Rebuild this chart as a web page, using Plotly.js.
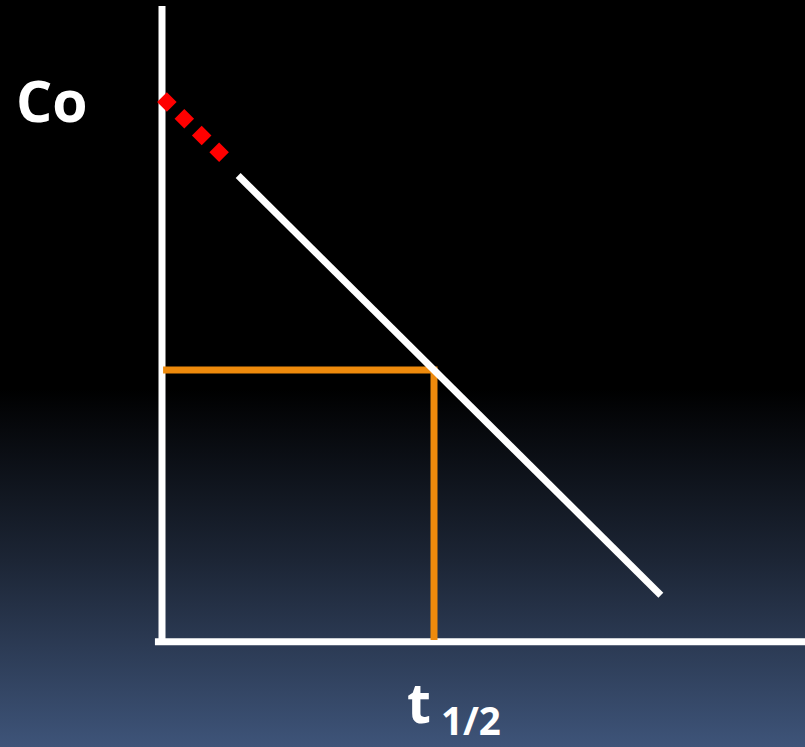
<!DOCTYPE html>
<html>
<head>
<meta charset="utf-8">
<script src="https://cdn.plot.ly/plotly-3.0.1.min.js"></script>
<style>
  html, body { margin: 0; padding: 0; }
  body {
    width: 805px; height: 747px; overflow: hidden;
    background: linear-gradient(to bottom, #000000 0%, #000000 52%, #1c2535 75%, #3e5479 100%);
  }
  #chart { width: 805px; height: 747px; }
</style>
</head>
<body>
<div id="chart"></div>
<script>
// Zero-order decay: concentration falls linearly from Co; half of Co is reached at t1/2.
const C0 = 10;
const halfLife = 5;

// axis frame
const yAxisT = [0, 0];
const yAxisC = [11.74, 0];
const xAxisT = [-0.13, 11.9];
const xAxisC = [-0.03, -0.03];

// extrapolated start of the decay line (dotted red)
const extrapT = [0.09, 0.41, 0.73, 1.05];
const extrapC = [9.96, 9.65, 9.34, 9.03];

// measured decay line
const decayT = [1.4, 9.17];
const decayC = [8.6, 0.83];

// half-life guide: Co/2 across to the line, then down to the time axis
const guideT = [0.02, halfLife, halfLife];
const guideC = [C0 / 2, C0 / 2, 0];

const traces = [
  { x: yAxisT, y: yAxisC, mode: 'lines', line: { color: '#ffffff', width: 7 }, hoverinfo: 'skip' },
  { x: xAxisT, y: xAxisC, mode: 'lines', line: { color: '#ffffff', width: 7 }, hoverinfo: 'skip' },
  { x: guideT, y: guideC, mode: 'lines', line: { color: '#ee8a0c', width: 7 }, hoverinfo: 'skip' },
  { x: decayT, y: decayC, mode: 'lines', line: { color: '#ffffff', width: 7 }, hoverinfo: 'skip' },
  { x: extrapT, y: extrapC, mode: 'markers',
    marker: { symbol: 'diamond', color: '#ff0000', size: 15, line: { width: 0 } }, hoverinfo: 'skip' }
];

const layout = {
  width: 805, height: 747,
  margin: { l: 0, r: 0, t: 0, b: 0 },
  paper_bgcolor: 'rgba(0,0,0,0)',
  plot_bgcolor: 'rgba(0,0,0,0)',
  showlegend: false,
  xaxis: { range: [-2.978, 11.82], visible: false, fixedrange: true },
  yaxis: { range: [-1.98, 11.85], visible: false, fixedrange: true },
  annotations: [
    { x: -2.02, y: C0, xref: 'x', yref: 'y', text: 'Co', showarrow: false,
      xanchor: 'center', yanchor: 'middle',
      font: { family: 'Open Sans', size: 57, weight: 700, color: '#ffffff' } },
    { x: 5.37, y: -1.2, xref: 'x', yref: 'y', text: 't<sub> 1/2</sub>', showarrow: false,
      xanchor: 'center', yanchor: 'middle',
      font: { family: 'Open Sans', size: 55, weight: 700, color: '#ffffff' } }
  ]
};

Plotly.newPlot('chart', traces, layout, { displayModeBar: false, staticPlot: true });
</script>
</body>
</html>
